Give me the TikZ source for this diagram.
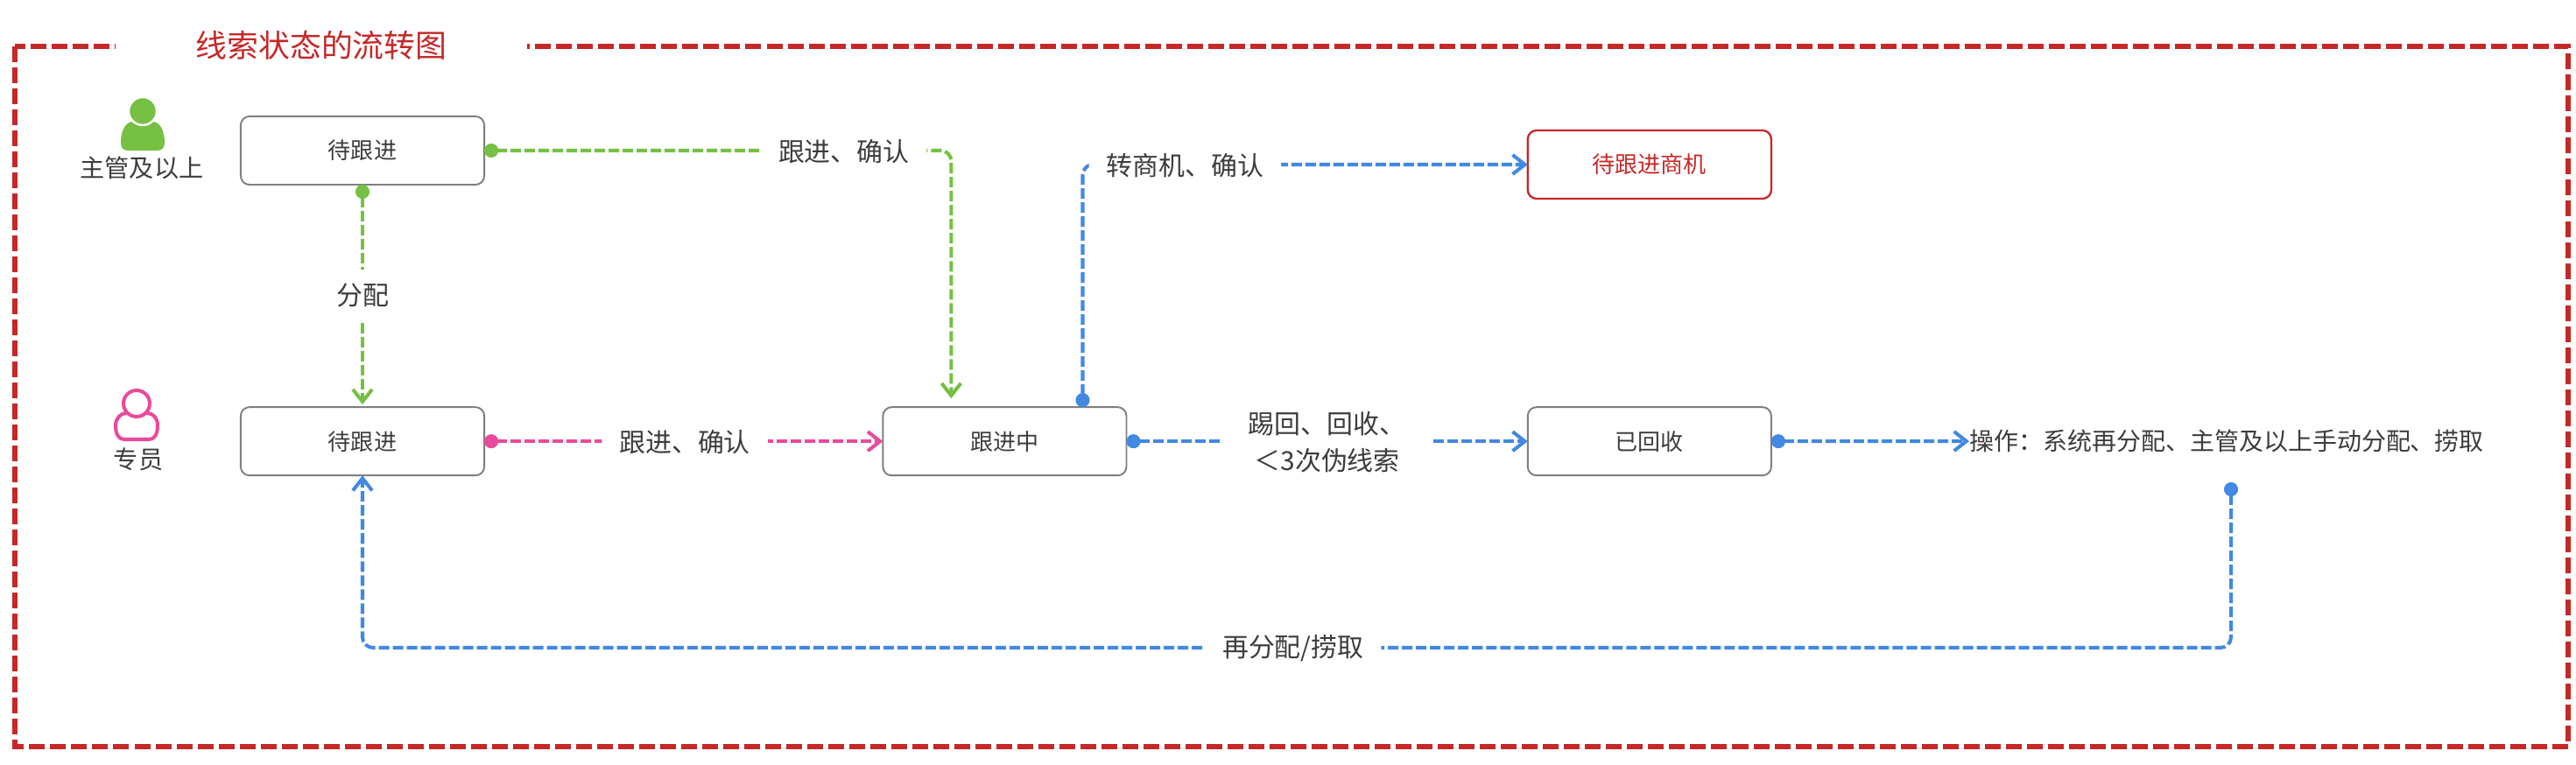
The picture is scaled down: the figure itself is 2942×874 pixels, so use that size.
\documentclass[tikz,border=0pt]{standalone}
\usepackage{fontspec}
\setmainfont{Noto Sans CJK SC}
\usetikzlibrary{positioning,arrows.meta}
\definecolor{framered}{HTML}{C62828}
\definecolor{flowgreen}{HTML}{76C043}
\definecolor{flowblue}{HTML}{4189E3}
\definecolor{flowpink}{HTML}{EA4A9B}
\definecolor{boxgray}{HTML}{7F7F7F}
\definecolor{textgray}{HTML}{3C3C3C}

\begin{document}
\begin{tikzpicture}[x=0.01cm,y=0.01cm,text=textgray]
  \tikzstyle{statebox}=[draw=boxgray,line width=0.55pt,outer sep=0pt,rounded corners=0.1cm,minimum width=2.78cm,minimum height=0.78cm,inner sep=0pt,font=\fontsize{7.4pt}{9pt}\selectfont]
  \tikzstyle{redbox}=[statebox,draw=framered,line width=0.65pt,text=framered]
  \tikzstyle{flowline}=[line width=1.15pt,rounded corners=0.12cm,dash pattern=on 0.12cm off 0.04cm,{Circle[length=0.16cm]}-{Straight Barb[length=0.14cm,width=0.22cm]}]
  \tikzstyle{flowlabel}=[fill=white,text=textgray,yshift=-0.01cm,inner xsep=0.2cm,inner ysep=0.16cm,font=\fontsize{8.5pt}{11.8pt}\selectfont,align=center]
  \tikzstyle{rolelabel}=[inner sep=0pt,font=\fontsize{8pt}{9pt}\selectfont]
  \useasboundingbox (0,0) rectangle (2942,-874);

  % outer frame and title
  \draw[framered,line width=1.7pt,dash pattern=on 0.18cm off 0.06cm] (17,-53) rectangle (2933,-853);
  \node[fill=white,text=framered,minimum width=4.7cm,inner ysep=0.06cm,font=\fontsize{10.2pt}{14pt}\selectfont] (title) at (367,-52) {线索状态的流转图};

  % roles
  \fill[flowgreen] (138,-163) .. controls (138,-150) and (143,-139) .. (152,-139) -- (174,-139) .. controls (183,-139) and (188,-150) .. (188,-163) .. controls (188,-169) and (185,-172) .. (180,-172) -- (146,-172) .. controls (141,-172) and (138,-169) .. (138,-163) -- cycle;
  \draw[white,fill=flowgreen,line width=0.7pt] (163,-127) circle (16);
  \node[rolelabel] (leaderrole) at (162,-192) {主管及以上};
  \draw[flowpink,line width=1.15pt] (132,-486) .. controls (132,-478) and (138,-472) .. (144,-472) -- (168,-472) .. controls (175,-472) and (180,-478) .. (180,-486) .. controls (180,-497) and (176,-502) .. (170,-502) -- (142,-502) .. controls (136,-502) and (132,-497) .. (132,-486) -- cycle;
  \draw[flowpink,fill=white,line width=1.15pt] (156,-461) circle (15);
  \node[rolelabel] (specialrole) at (158,-525) {专员};

  % states
  \node[statebox] (leaderwait) at (414,-172) {待跟进};
  \node[statebox,below=2.54cm of leaderwait] (specialwait) {待跟进};
  \node[statebox,right=4.55cm of specialwait] (progress) {跟进中};
  \node[statebox,right=4.58cm of progress] (recycled) {已回收};
  \node[redbox,above=2.38cm of recycled] (bizwait) {待跟进商机};
  \node[inner sep=0pt,anchor=west,font=\fontsize{7.95pt}{10pt}\selectfont] (ops) at (2249,-504) {操作：系统再分配、主管及以上手动分配、捞取};
  \coordinate (opsdot) at (2548,-551);
  \coordinate (backcorner) at (414,-740);

  % flows
  \draw[flowline,flowgreen] (leaderwait) -- node[flowlabel] (assign) {分配} ([yshift=0.03cm]specialwait.north);
  \draw[flowline,flowgreen] (leaderwait.east) -| node[flowlabel,pos=0.385] (leaderfollow) {跟进、确认} ([xshift=0.78cm,yshift=0.1cm]progress.north west);
  \draw[flowline,flowpink] (specialwait) -- node[flowlabel,pos=0.503] (specialfollow) {跟进、确认} (progress);
  \draw[flowline,flowblue] ([xshift=2.28cm]progress.north west) |- node[flowlabel,pos=0.615] (tobiz) {转商机、确认} (bizwait);
  \draw[flowline,flowblue] (progress) -- node[flowlabel,pos=0.5,inner xsep=0.3cm] (kickback) {踢回、回收、\\＜3次伪线索} (recycled);
  \draw[flowline,flowblue] (recycled) -- (ops);
  \draw[flowline,flowblue] (opsdot) |- node[flowlabel,pos=0.751] (redistribute) {再分配/捞取} (backcorner) -- (specialwait);
\end{tikzpicture}
\end{document}
